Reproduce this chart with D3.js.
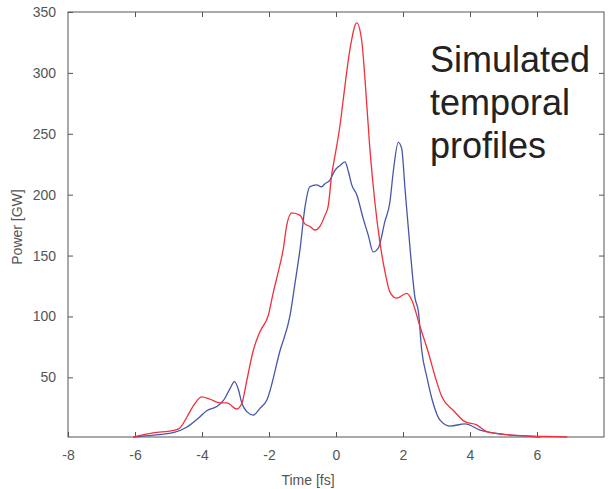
<!DOCTYPE html>
<html>
<head>
<meta charset="utf-8">
<script src="https://cdn.jsdelivr.net/npm/d3@7"></script>
<style>
	body { margin: 0; background: #fff; }
	svg text { font-family: "Liberation Sans", Arial, sans-serif; }
</style>
</head>
<body>
<svg id="chart" width="608" height="489"></svg>
<script>
// time axis [fs] and power [GW]
var redTime = [-6.05, -5.46, -4.81, -4.66, -4.45, -4.25, -4.01, -3.76, -3.46, -3.26, -2.96, -2.81, -2.66, -2.47, -2.27,
	-2.02, -1.87, -1.72, -1.57, -1.47, -1.32, -1.07, -0.93, -0.78, -0.63, -0.48, -0.33, -0.23, -0.13, -0.03,
	0.12, 0.22, 0.42, 0.62, 0.77, 0.87, 1.01, 1.16, 1.31, 1.46, 1.61, 1.81, 2.11, 2.26, 2.51, 2.76, 2.96,
	3.16, 3.5, 3.85, 4.2, 4.5, 5.0, 5.8, 6.6, 6.9];
var redPower = [1, 4.3, 6.7, 8.4, 17.4, 27, 34, 32, 29, 29, 24, 28.7, 47.8, 72, 87.5,
	101, 120, 137, 156, 175, 185, 183, 176, 174, 171, 174, 183, 191, 216, 232,
	257, 279, 320, 341, 326, 293, 238, 194, 161, 137, 120, 115, 119, 113.5, 91.5, 70, 50.5,
	34, 23, 13.6, 11, 5.4, 3.2, 1.8, 1.3, 1];

var blueTime = [-6.05, -5.45, -4.86, -4.46, -4.06, -3.86, -3.56, -3.36, -3.16, -3.03, -2.91, -2.81, -2.66, -2.47, -2.27,
	-2.07, -1.67, -1.37, -1.22, -1.07, -0.93, -0.78, -0.58, -0.43, -0.33, -0.18, -0.03, 0.12, 0.27, 0.37,
	0.47, 0.62, 0.81, 0.96, 1.11, 1.26, 1.46, 1.61, 1.71, 1.86, 1.96, 2.06, 2.21, 2.36, 2.46, 2.56, 2.71,
	2.9, 3.1, 3.4, 3.85, 4.3, 5.0, 5.7, 6.1];
var bluePower = [1, 2.6, 4.5, 9, 17.7, 22.6, 26, 31, 41, 46.4, 39.6, 28.7, 21.8, 19, 24.5,
	31, 72, 101, 128, 156, 189, 206.5, 208, 206.5, 209, 212, 220, 224, 227, 219,
	208, 200, 180.5, 167, 153, 156, 178, 194, 219, 243, 238, 205, 156, 115, 104, 72, 50.5,
	28.7, 15, 10, 11.7, 6.7, 3.2, 1.8, 1];

var xTicks = [-8, -6, -4, -2, 0, 2, 4, 6];
var yTicks = [50, 100, 150, 200, 250, 300, 350];

var svg = d3.select('#chart');
var plotL = 68, plotR = 604, plotT = 12, plotB = 437;
var axisColor = '#555';

var x = d3.scaleLinear().domain([-8, 8]).range([plotL, plotR]);
var y = d3.scaleLinear().domain([1, 350]).range([plotB, plotT]);

// frame
svg.append('rect')
	.attr('x', plotL).attr('y', plotT)
	.attr('width', plotR - plotL).attr('height', plotB - plotT)
	.attr('fill', 'none').attr('stroke', axisColor).attr('stroke-width', 1);

// ticks point inward on all four sides
function styleAxis(g) {
	g.select('.domain').remove();
	g.selectAll('.tick line').attr('stroke', axisColor);
	g.selectAll('.tick text').attr('fill', axisColor).attr('font-size', 14);
}

svg.append('g')
	.attr('transform', 'translate(0,' + plotB + ')')
	.call(d3.axisBottom(x).tickValues(xTicks).tickSize(-5).tickPadding(13).tickFormat(function(d) { return String(d); }))
	.call(styleAxis);
svg.append('g')
	.attr('transform', 'translate(0,' + plotT + ')')
	.call(d3.axisTop(x).tickValues(xTicks.slice(1)).tickSize(-5).tickFormat(''))
	.call(styleAxis);
svg.append('g')
	.attr('transform', 'translate(' + plotL + ',0)')
	.call(d3.axisLeft(y).tickValues(yTicks).tickSize(-5).tickPadding(12))
	.call(styleAxis);
svg.append('g')
	.attr('transform', 'translate(' + plotR + ',0)')
	.call(d3.axisRight(y).tickValues(yTicks.slice(0, -1)).tickSize(-5).tickFormat(''))
	.call(styleAxis);

// axis titles
svg.append('text')
	.attr('x', 308).attr('y', 485)
	.attr('text-anchor', 'middle').attr('font-size', 14).attr('fill', axisColor)
	.text('Time [fs]');
svg.append('text')
	.attr('transform', 'translate(22,227) rotate(-90)')
	.attr('text-anchor', 'middle').attr('font-size', 14).attr('fill', axisColor)
	.text('Power [GW]');

// curves
var line = d3.line()
	.x(function(d) { return x(d[0]); })
	.y(function(d) { return y(d[1]); })
	.curve(d3.curveMonotoneX);

svg.append('path')
	.datum(d3.zip(blueTime, bluePower))
	.attr('d', line)
	.attr('fill', 'none').attr('stroke', '#4756a8').attr('stroke-width', 1.3);
svg.append('path')
	.datum(d3.zip(redTime, redPower))
	.attr('d', line)
	.attr('fill', 'none').attr('stroke', '#f2303c').attr('stroke-width', 1.3);

// annotation
var note = ['Simulated', 'temporal', 'profiles'];
svg.append('g').selectAll('text')
	.data(note)
	.join('text')
	.attr('x', 430)
	.attr('y', function(d, i) { return 72 + i * 43; })
	.attr('font-size', 36).attr('fill', '#222')
	.text(function(d) { return d; });
</script>
</body>
</html>
